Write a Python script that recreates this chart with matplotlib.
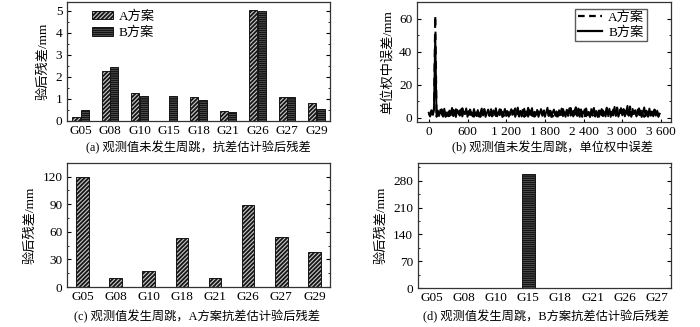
import numpy as np
import matplotlib
matplotlib.use("Agg")
import matplotlib.pyplot as plt
from matplotlib.patches import Patch
from matplotlib.lines import Line2D
from matplotlib.ticker import MultipleLocator

plt.rcParams['font.family'] = ['Liberation Serif', 'Noto Sans CJK SC']
plt.rcParams['hatch.linewidth'] = 1.3
plt.rcParams['font.size'] = 9

# (a) 未发生周跳
sats_a = ["G05", "G08", "G10", "G15", "G18", "G21", "G26", "G27", "G29"]
res_a_A = [0.20, 2.28, 1.27, 0.0, 1.08, 0.46, 5.03, 1.08, 0.83]
res_a_B = [0.52, 2.43, 1.12, 1.15, 0.96, 0.40, 4.97, 1.10, 0.55]

# (b) 单位权中误差 (每20历元取一个值)
epochs = np.arange(0, 3600, 20)
sigma_A = [2.7,1.2,4.1,0.8,5.6,62.0,1.0,4.3,0.7,3.6,5.1,1.4,4.0,0.6,3.0,5.4,1.1,3.7,0.9,4.8,
           1.5,5.2,0.7,3.5,4.4,1.0,5.8,2.3,0.6,4.2,3.1,0.9,5.0,1.8,4.6,0.7,3.3,5.5,1.2,4.0,
           0.6,3.8,1.7,5.3,2.5,0.8,4.5,1.3,5.9,2.2,0.7,3.9,1.1,4.8,2.6,5.2,0.8,3.6,1.0,4.2,
           5.0,1.6,3.4,0.5,4.7,2.8,0.9,5.7,1.4,3.2,0.8,4.9,2.1,5.4,0.6,3.7,1.2,6.0,0.9,3.5,
           1.3,4.5,0.7,5.2,2.4,3.8,0.6,4.6,1.9,5.5,0.8,3.0,4.3,1.1,5.8,2.0,0.7,4.1,2.9,0.9,
           4.9,1.5,3.3,0.6,5.3,2.6,0.9,4.4,1.2,3.6,5.9,0.7,4.2,1.8,3.1,0.8,5.6,1.4,4.0,0.6,
           3.4,5.1,1.0,4.3,2.2,0.6,5.8,1.3,3.7,0.8,4.9,2.5,0.7,5.2,1.6,4.5,0.9,3.3,6.1,1.1,
           4.1,2.0,0.7,5.0,3.2,0.9,6.2,1.5,4.7,0.6,3.5,5.3,1.0,4.4,2.3,0.8,6.8,1.2,3.9,0.7,
           4.6,1.4,3.0,5.7,0.8,4.2,1.9,0.6,5.1,2.7,0.9,4.4,1.3,3.8,0.7,5.0,2.1,4.3,1.0,3.2]
sigma_B = [3.1,0.8,4.6,1.9,5.2,50.0,0.6,3.8,1.2,4.9,2.4,0.7,5.5,1.6,3.3,0.9,4.4,2.1,6.0,1.0,
           3.6,0.5,4.8,2.7,1.3,5.1,0.8,3.9,2.2,5.7,0.6,4.1,1.7,3.4,0.9,5.3,2.5,1.1,4.7,0.7,
           3.2,5.6,1.4,4.3,0.6,2.9,5.0,1.2,3.7,0.8,4.5,2.0,5.8,0.9,3.5,1.6,4.9,0.5,2.8,5.4,
           1.1,4.0,0.7,3.3,5.2,1.8,4.6,0.6,3.0,6.2,1.3,4.2,0.8,2.6,5.5,1.0,3.8,0.7,4.7,2.3,
           5.9,0.9,3.6,1.5,4.8,0.6,2.7,5.3,1.2,4.1,0.8,3.4,6.1,1.7,4.4,0.5,3.1,5.0,1.4,3.9,
           0.7,4.6,2.2,5.6,1.0,3.5,0.6,4.9,2.0,5.8,1.3,3.7,0.8,4.3,6.4,1.1,3.2,0.6,5.1,2.4,
           4.0,0.9,5.7,1.6,3.6,0.7,4.8,2.1,6.0,1.2,3.9,0.5,4.5,2.8,5.3,1.0,3.4,0.8,4.7,1.9,
           5.5,0.6,3.8,1.4,6.6,1.1,4.2,0.7,3.0,5.9,1.5,4.6,0.9,3.5,7.2,1.2,4.0,0.6,5.4,2.3,
           3.7,0.8,5.0,1.8,4.4,0.5,3.3,6.3,1.0,4.1,0.7,5.6,2.0,3.6,0.9,4.8,1.3,3.9,0.6,2.5]
xticks_b = [0, 600, 1200, 1800, 2400, 3000, 3600]
xlabels_b = ["0", "600", "1 200", "1 800", "2 400", "3 000", "3 600"]

# (c) 发生周跳, A方案
sats_c = ["G05", "G08", "G10", "G18", "G21", "G26", "G27", "G29"]
res_c_A = [120, 10, 17, 53, 10, 89, 54, 38]

# (d) 发生周跳, B方案
sats_d = ["G05", "G08", "G10", "G15", "G18", "G21", "G26", "G27"]
res_d_B = [1.5, 1.5, 0, 298, 0, 0, 0, 0]

fig = plt.figure(figsize=(7, 3.27), dpi=100)
ax_a = fig.add_axes([0.096, 0.630, 0.375, 0.364])
ax_b = fig.add_axes([0.596, 0.627, 0.363, 0.367])
ax_c = fig.add_axes([0.096, 0.122, 0.375, 0.380])
ax_d = fig.add_axes([0.597, 0.119, 0.361, 0.383])

def style(ax, major, minor):
    ax.yaxis.set_major_locator(MultipleLocator(major))
    ax.yaxis.set_minor_locator(MultipleLocator(minor))
    ax.tick_params(axis='y', which='both', direction='in', right=True, labelsize=9.5)
    ax.tick_params(axis='y', which='major', length=3)
    ax.tick_params(axis='y', which='minor', length=1.5)
    ax.tick_params(axis='x', direction='in', length=0, labelsize=9.5, pad=3)
    for s in ax.spines.values():
        s.set_linewidth(0.9)
        s.set_color('#333333')

hatch_a = dict(facecolor='#c8c8c8', edgecolor='#151515', hatch='////////', linewidth=0.7)
hatch_b = dict(facecolor='#c8c8c8', edgecolor='#151515', hatch='--------', linewidth=0.7)

# (a)
xa = np.arange(len(sats_a))
w = 0.27
ax_a.bar(xa - 0.14, res_a_A, w, **hatch_a)
ax_a.bar(xa + 0.14, res_a_B, w, **hatch_b)
ax_a.set_xticks(xa)
ax_a.set_xticklabels(sats_a)
ax_a.set_xlim(-0.45, len(sats_a) - 0.55)
ax_a.set_ylim(0, 5.4)
style(ax_a, 1, 0.5)
ax_a.set_ylabel("验后残差/mm", fontsize=9.5)
ax_a.legend([Patch(**hatch_a), Patch(**hatch_b)], ["A方案", "B方案"],
            loc='upper left', bbox_to_anchor=(0.05, 1.03), frameon=False,
            fontsize=9.5, handlelength=1.6, handleheight=0.6, labelspacing=0.3,
            handletextpad=0.4)

# (b)
ax_b.plot(epochs, sigma_A, color='black', lw=1.5, ls=(0, (4, 3)))
ax_b.plot(epochs, sigma_B, color='black', lw=1.4)
ax_b.set_xticks(xticks_b)
ax_b.set_xticklabels(xlabels_b)
ax_b.set_xlim(-180, 3760)
ax_b.set_ylim(-2.5, 70)
style(ax_b, 20, 10)
ax_b.tick_params(axis='x', direction='in', length=2, labelsize=9.5)
ax_b.set_ylabel("单位权中误差/mm", fontsize=9.5)
ax_b.legend([Line2D([], [], color='black', lw=1.6, ls=(0, (3, 2))),
             Line2D([], [], color='black', lw=1.6)],
            ["A方案", "B方案"], loc='upper right', fontsize=9.5,
            frameon=True, fancybox=False, edgecolor='#333333',
            handlelength=1.8, labelspacing=0.2, borderpad=0.2,
            handletextpad=0.5, bbox_to_anchor=(0.93, 1.0))

# (c)
xc = np.arange(len(sats_c))
ax_c.bar(xc, res_c_A, 0.38, **hatch_a)
ax_c.set_xticks(xc)
ax_c.set_xticklabels(sats_c)
ax_c.set_xlim(-0.46, len(sats_c) - 0.54)
ax_c.set_ylim(0, 135)
style(ax_c, 30, 15)
ax_c.set_ylabel("验后残差/mm", fontsize=9.5)

# (d)
xd = np.arange(len(sats_d))
ax_d.bar(xd, res_d_B, 0.41, **hatch_b)
ax_d.set_xticks(xd)
ax_d.set_xticklabels(sats_d)
ax_d.set_xlim(-0.43, len(sats_d) - 0.57)
ax_d.set_ylim(0, 327)
style(ax_d, 70, 35)
ax_d.set_ylabel("验后残差/mm", fontsize=9.5)

# 图注
fig.text(198 / 700, 1 - 148 / 327, "(a) 观测值未发生周跳，抗差估计验后残差", ha='center', va='center', fontsize=8.8)
fig.text(552 / 700, 1 - 148 / 327, "(b) 观测值未发生周跳，单位权中误差", ha='center', va='center', fontsize=8.8)
fig.text(197 / 700, 1 - 317 / 327, "(c) 观测值发生周跳，A方案抗差估计验后残差", ha='center', va='center', fontsize=8.8)
fig.text(546 / 700, 1 - 317 / 327, "(d) 观测值发生周跳，B方案抗差估计验后残差", ha='center', va='center', fontsize=8.8)

fig.savefig("out.png", dpi=100)
